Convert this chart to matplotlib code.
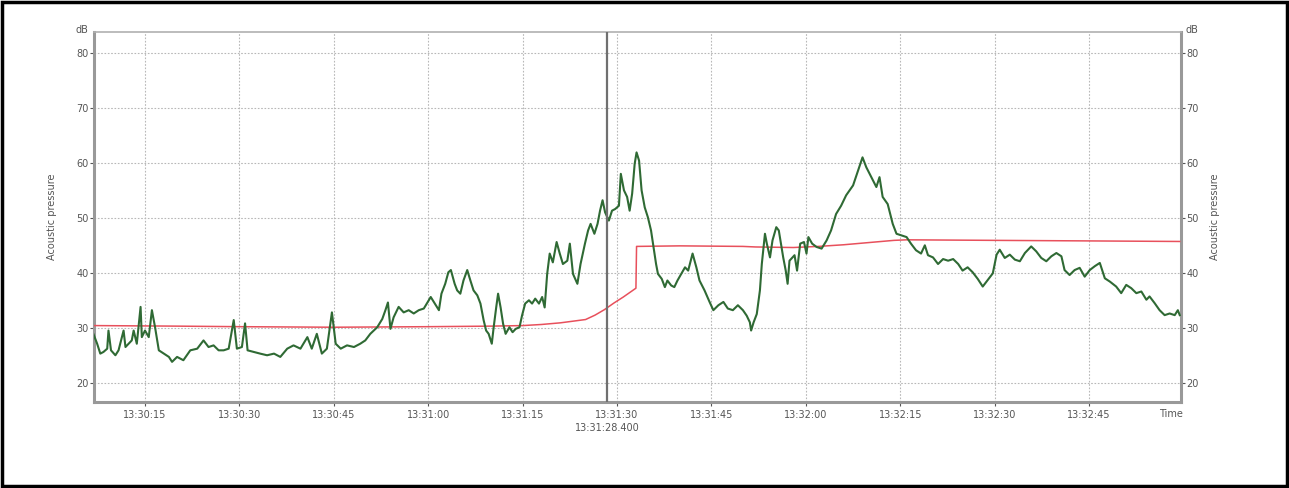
import matplotlib
matplotlib.use("Agg")
import matplotlib.pyplot as plt
from matplotlib.patches import Rectangle

# seconds after 13:30:00
green_t = [6.8, 7.4, 7.9, 8.4, 9.0, 9.2, 9.6, 10.3, 10.8, 11.6, 11.9, 12.4, 12.9, 13.2, 13.7, 14.3, 14.5,
           15.0, 15.6, 16.1, 16.6, 17.2, 18.0, 18.8, 19.3, 20.1, 21.1, 22.2, 23.3, 24.3, 25.1, 25.9, 26.7,
           27.5, 28.3, 29.1, 29.6, 30.4, 30.9, 31.3, 32.3, 33.3, 34.4, 35.5, 36.5, 37.6, 38.6, 39.7, 40.8,
           41.5, 42.3, 43.1, 43.9, 44.7, 45.3, 46.1, 47.1, 48.2, 49.2, 50.0, 50.8, 51.9, 52.7, 53.2, 53.6,
           54.0, 54.5, 55.3, 56.1, 56.9, 57.7, 58.5, 59.3, 60.4, 61.2, 61.7, 62.1, 62.7, 63.2, 63.6, 64.2,
           64.6, 65.1, 65.6, 66.2, 66.7, 67.2, 67.8, 68.3, 68.8, 69.2, 69.6, 70.1, 70.4, 70.8, 71.1, 71.5,
           71.9, 72.3, 72.9, 73.4, 73.9, 74.5, 74.9, 75.4, 76.0, 76.5, 77.0, 77.6, 78.1, 78.5, 78.9, 79.3,
           79.8, 80.4, 80.9, 81.4, 82.1, 82.5, 83.0, 83.7, 84.2, 84.9, 85.4, 85.8, 86.4, 86.9, 87.3, 87.7,
           88.1, 88.7, 89.2, 89.7, 90.3, 90.6, 91.1, 91.6, 92.0, 92.4, 92.8, 93.1, 93.5, 93.9, 94.4, 94.9,
           95.4, 95.8, 96.2, 96.5, 97.1, 97.6, 98.0, 98.6, 99.1, 99.6, 100.2, 100.8, 101.3, 102.0, 102.6,
           103.1, 103.9, 104.7, 105.3, 106.1, 106.9, 107.6, 108.4, 109.2, 110.0, 110.6, 111.1, 111.3, 111.7,
           112.2, 112.7, 113.0, 113.5, 113.8, 114.3, 114.7, 115.3, 115.7, 116.4, 116.8, 117.1, 117.4, 118.2,
           118.6, 119.1, 119.7, 120.1, 120.4, 121.0, 121.7, 122.5, 123.3, 124.0, 124.8, 125.6, 126.4, 127.5,
           128.3, 129.0, 129.6, 130.4, 131.2, 131.7, 132.2, 133.0, 133.8, 134.4, 135.2, 136.0, 136.7, 137.5,
           138.3, 138.9, 139.4, 140.2, 141.0, 141.8, 142.6, 143.4, 144.2, 144.9, 145.7, 146.5, 147.3, 148.1,
           148.9, 149.7, 150.3, 150.8, 151.6, 152.4, 153.2, 154.0, 154.8, 155.8, 156.6, 157.4, 158.2, 159.0,
           159.8, 160.6, 161.1, 161.9, 162.7, 163.5, 164.3, 165.1, 165.9, 166.7, 167.5, 168.3, 169.3, 170.1,
           170.9, 171.7, 172.5, 173.3, 174.1, 174.6, 175.4, 176.2, 177.0, 177.8, 178.6, 179.1, 179.4]
green_db = [28.9, 27.1, 25.3, 25.6, 26.2, 29.5, 25.9, 25.0, 25.9, 29.5, 26.5, 27.1, 27.7, 29.5, 27.1, 33.8, 28.3,
            29.5, 28.3, 33.2, 30.1, 25.9, 25.3, 24.7, 23.8, 24.7, 24.1, 25.9, 26.2, 27.7, 26.5, 26.8, 25.9,
            25.9, 26.2, 31.4, 26.2, 26.5, 30.8, 25.9, 25.6, 25.3, 25.0, 25.3, 24.7, 26.2, 26.8, 26.2, 28.3,
            26.2, 28.9, 25.3, 26.2, 32.8, 27.1, 26.2, 26.8, 26.5, 27.1, 27.7, 28.9, 30.1, 31.6, 33.2, 34.6,
            29.8, 31.9, 33.8, 32.8, 33.2, 32.6, 33.2, 33.5, 35.6, 34.1, 33.2, 36.2, 38.0, 40.1, 40.5, 38.0,
            36.8, 36.2, 38.6, 40.5, 38.6, 36.8, 35.9, 34.4, 31.4, 29.5, 28.9, 27.1, 30.1, 33.7, 36.2, 33.7,
            30.7, 28.9, 30.1, 29.2, 29.8, 30.1, 32.2, 34.4, 35.0, 34.4, 35.3, 34.4, 35.6, 33.7, 39.8, 43.5,
            41.9, 45.6, 43.5, 41.6, 42.2, 45.3, 39.8, 38.0, 41.6, 45.3, 47.7, 48.9, 47.1, 48.9, 51.3, 53.2,
            51.0, 49.5, 51.3, 51.6, 52.2, 58.0, 55.0, 53.8, 51.3, 54.4, 59.8, 61.9, 60.4, 55.0, 51.9, 50.1,
            47.7, 44.7, 41.6, 39.8, 38.9, 37.4, 38.6, 37.7, 37.4, 38.6, 39.8, 41.0, 40.4, 43.5, 41.0,
            38.6, 36.8, 34.7, 33.2, 34.1, 34.7, 33.5, 33.2, 34.1, 33.2, 32.2, 31.0, 29.5, 31.0,
            32.5, 36.8, 41.6, 47.1, 45.3, 42.8, 45.9, 48.3, 47.7, 42.8, 40.4, 38.0, 42.2, 43.2,
            40.4, 45.3, 45.6, 43.5, 46.5, 45.3, 44.7, 44.4, 45.9, 47.7, 50.7, 52.2, 54.1, 55.9,
            58.6, 61.0, 59.2, 57.4, 55.6, 57.4, 53.8, 52.5, 48.9, 47.1, 46.8, 46.5, 45.3, 44.1,
            43.5, 45.0, 43.2, 42.8, 41.6, 42.5, 42.2, 42.5, 41.6, 40.4, 41.0, 40.1, 38.9, 37.5,
            38.7, 39.9, 43.3, 44.2, 42.7, 43.3, 42.4, 42.1, 43.6, 44.8, 43.9, 42.7, 42.1, 43.0,
            43.6, 43.0, 40.5, 39.6, 40.5, 40.9, 39.3, 40.5, 41.2, 41.8, 39.0, 38.4, 37.5, 36.3,
            37.8, 37.2, 36.3, 36.6, 35.1, 35.7, 34.5, 33.2, 32.3, 32.6, 32.3, 33.2, 32.3]

red_t = [6.8, 20.0, 30.0, 45.0, 60.0, 70.0, 75.0, 78.0, 81.0, 83.0, 85.0, 86.5, 88.0, 89.5, 91.0, 92.5, 93.0,
         93.1, 100.0, 110.0, 112.0, 118.0, 122.0, 126.0, 130.0, 134.0, 136.0, 150.0, 165.0, 179.4]
red_db = [30.4, 30.3, 30.2, 30.1, 30.2, 30.3, 30.4, 30.6, 30.9, 31.2, 31.5, 32.3, 33.3, 34.5, 35.6, 36.8, 37.2,
          44.8, 44.9, 44.8, 44.7, 44.6, 44.8, 45.1, 45.5, 45.9, 46.0, 45.9, 45.8, 45.7]

x_ticks = [15, 30, 45, 60, 75, 90, 105, 120, 135, 150, 165]
x_labels = ["13:30:15", "13:30:30", "13:30:45", "13:31:00", "13:31:15", "13:31:30",
            "13:31:45", "13:32:00", "13:32:15", "13:32:30", "13:32:45"]
y_ticks = [20, 30, 40, 50, 60, 70, 80]
cursor_t = 88.4
cursor_label = "13:31:28.400"

W, H = 1289, 488
fig = plt.figure(figsize=(W / 100, H / 100), dpi=100)
fig.patch.set_facecolor("white")
ax = fig.add_axes([94 / W, 1 - 402 / H, (1181 - 94) / W, (402 - 32) / H])

ax.set_xlim(6.9, 179.6)
ax.set_ylim(16.5, 83.8)

ax.plot(red_t, red_db, color="#e8505c", lw=1.1, zorder=3)
ax.plot(green_t, green_db, color="#2f6a34", lw=1.5, zorder=4)
ax.axvline(cursor_t, color="#707070", lw=1.6, zorder=5)

ax.set_xticks(x_ticks)
ax.set_xticklabels(x_labels)
ax.set_yticks(y_ticks)
ax.grid(True, color="#b8b8b8", lw=0.8, ls=(0, (1.5, 1.5)))
ax.tick_params(axis="both", labelsize=7, colors="#555555", length=3, width=0.8)
ax.tick_params(axis="y", right=True, labelright=True, pad=1)
ax.tick_params(axis="x", pad=3)
for side in ["left", "right", "bottom"]:
    ax.spines[side].set_color("#999999")
    ax.spines[side].set_linewidth(2.2)
ax.spines["top"].set_color("#b0b0b0")
ax.spines["top"].set_linewidth(1.2)

fig.text(52 / W, 1 - 217 / H, "Acoustic pressure", fontsize=7, color="#555555",
         rotation=90, ha="center", va="center")
fig.text(1215 / W, 1 - 217 / H, "Acoustic pressure", fontsize=7, color="#555555",
         rotation=90, ha="center", va="center")
fig.text(88 / W, 1 - 30 / H, "dB", fontsize=7, color="#555555", ha="right", va="center")
fig.text(1185 / W, 1 - 30 / H, "dB", fontsize=7, color="#555555", ha="left", va="center")
fig.text(1183 / W, 1 - 414 / H, "Time", fontsize=7, color="#555555", ha="right", va="center")
ax.text(cursor_t, -0.07, cursor_label, transform=ax.get_xaxis_transform(), fontsize=7,
        color="#555555", ha="center", va="center")

fig.patches.append(Rectangle((2 / W, 2 / H), (W - 4) / W, (H - 4) / H, transform=fig.transFigure,
                             fill=False, edgecolor="black", lw=2.5))

fig.savefig("out.png", dpi=100)
